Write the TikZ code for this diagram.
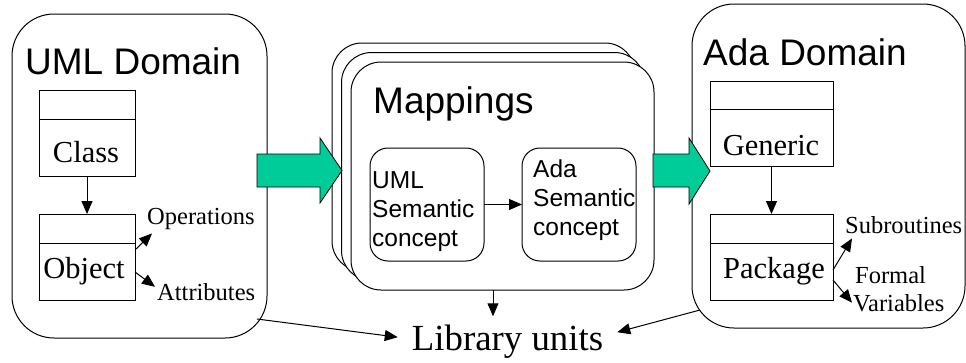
\documentclass[tikz,border=0pt]{standalone}
\usepackage{fontspec}
\setmainfont{Liberation Serif}
\newfontfamily\sansf{Liberation Sans}
\usetikzlibrary{arrows.meta}
\definecolor{arrowgreen}{RGB}{0,204,153}
\newcommand\setfs[2]{\fontsize{#1}{#2}\selectfont}
\tikzset{
  dombox/.style={draw, line width=1pt, rounded corners=42pt, fill=white, outer sep=0pt, inner sep=0pt},
  mapbox/.style={draw, line width=1pt, rounded corners=30pt, fill=white, outer sep=0pt, inner sep=0pt,
                 minimum width=303pt, minimum height=228pt},
  sembox/.style={draw, line width=1pt, rounded corners=18pt, outer sep=0pt, inner sep=0pt,
                 minimum width=114pt, minimum height=113pt},
  clsbox/.style={draw, line width=1pt, outer sep=0pt, inner sep=0pt, minimum height=86pt},
  title/.style={font=\sansf\setfs{37}{44}, inner sep=0pt, anchor=base west},
  semtext/.style={font=\sansf\setfs{24.5}{29}, inner sep=0pt, anchor=base west, align=left},
  clstext/.style={font=\setfs{30.5}{36}, inner sep=0pt, anchor=base},
  smalltext/.style={font=\setfs{24.5}{29}, inner sep=0pt, anchor=base west},
  arr/.style={line width=1pt, -{Triangle[length=13pt,width=11pt]}},
  bigarrow/.style={fill=arrowgreen, draw=black, line width=0.8pt, line join=miter}
}
\begin{document}
\begin{tikzpicture}[x=1pt, y=-1pt]
\useasboundingbox (0,0) rectangle (966,362);

% domain frames
\node[dombox, minimum width=255pt, minimum height=324pt] (umld) at (139.5,176) {};
\node[dombox, minimum width=273pt, minimum height=324pt] (adad) at (828.5,166) {};
\node[title] (umlt) at (25,74) {UML Domain};
\node[title] (adat) at (703,65) {Ada Domain};

% UML side: class and object
\node[clsbox, minimum width=96pt] (class) at (87,133) {};
\draw[line width=1pt] ([yshift=-29pt]class.north west) -- ([yshift=-29pt]class.north east);
\node[clstext] (classt) at (86,162) {Class};
\node[clsbox, minimum width=96pt] (object) at (87,257) {};
\draw[line width=1pt] ([yshift=-29pt]object.north west) -- ([yshift=-29pt]object.north east);
\node[clstext] (objectt) at (84,278) {Object};
\draw[arr] (class.south) -- (object.north);

\node[smalltext] (ops) at (147,224) {Operations};
\node[smalltext] (attr) at (157,300) {Attributes};
\draw[arr] ([yshift=7pt]object.east) -- ([shift={(5pt,-4pt)}]ops.south west);
\draw[arr] ([yshift=-15pt]object.east) -- ([shift={(-2pt,-4pt)}]attr.north west);

% Ada side: generic and package
\node[clsbox, minimum width=123pt, minimum height=85pt] (generic) at (771.5,123.5) {};
\draw[line width=1pt] ([yshift=-28pt]generic.north west) -- ([yshift=-28pt]generic.north east);
\node[clstext] (generict) at (771,155) {Generic};
\node[clsbox, minimum width=123pt] (package) at (771.5,257) {};
\draw[line width=1pt] ([yshift=-29pt]package.north west) -- ([yshift=-29pt]package.north east);
\node[clstext] (packaget) at (774,278) {Package};
\draw[arr] (generic.south) -- (package.north);

\node[smalltext] (subr) at (845,233) {Subroutines};
\node[smalltext] (formal) at (855,283) {Formal};
\node[smalltext] (vars) at (853,311) {Variables};
\draw[arr] ([yshift=-13pt]package.east) -- ([shift={(7pt,-5pt)}]subr.south west);
\draw[arr] ([yshift=-23pt]package.east) -- ([xshift=-1pt]vars.west);

% stacked mapping frames
\node[mapbox] (mapback) at (483.5,157) {};
\node[mapbox] (mapmid) at (493,166.5) {};
\node[mapbox] (map) at (502.5,176) {};
\node[title] (mapt) at (373,113) {Mappings};

\node[sembox] (semu) at (427,204.5) {};
\node[sembox] (sema) at (579,204.5) {};
% multi-line nodes sit on the baseline of their last line
\node[semtext] (semut) at (372,246) {UML\\Semantic\\concept};
\node[semtext] (semat) at (533,235) {Ada\\Semantic\\concept};
\draw[arr] (semu.east) -- (sema.west);

% broad transformation arrows
\draw[bigarrow] (257,154) -- (320,154) -- (320,138) -- (342,170.5) -- (320,203) -- (320,187) -- (257,187) -- cycle;
\draw[bigarrow] (653,154) -- (689,154) -- (689,138) -- (710,171) -- (689,204) -- (689,187) -- (653,187) -- cycle;

% library units
\node[font=\setfs{36.8}{44}, inner xsep=14pt, inner ysep=8pt, anchor=base] (lib) at (507.5,350) {Library units};
\coordinate (umlout) at (257,319);
\coordinate (adaout) at (700,310);
\draw[arr] (umlout) -- ([yshift=4pt]lib.west);
\draw[arr] (adaout) -- ([yshift=9pt]lib.east);
\draw[arr] ([xshift=-9.5pt]map.south) -- ([xshift=-9.5pt]map.south |- lib.north);
\end{tikzpicture}
\end{document}
